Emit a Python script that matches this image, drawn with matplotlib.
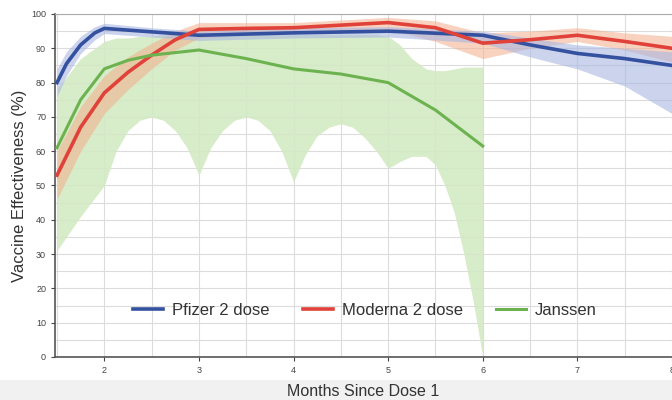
import matplotlib
matplotlib.use("Agg")
import matplotlib.pyplot as plt
from matplotlib.ticker import MultipleLocator

plt.rcParams["font.family"] = ["Liberation Sans", "DejaVu Sans"]

# Pfizer 2 dose
PF_X = [1.5, 1.6, 1.75, 1.9, 2.0, 2.5, 3.0, 4.0, 5.0, 6.0, 6.5, 7.0, 7.5, 8.0]
PF_Y = [80, 85.5, 91, 94.5, 95.8, 94.8, 93.8, 94.5, 95, 93.8, 91, 88.5, 87, 85]
PF_LO = [76, 82, 88.5, 92.5, 94.3, 93.3, 92.3, 93, 93.3, 91.5, 87.5, 84, 79, 71]
PF_HI = [84, 89, 93.5, 96.3, 97.3, 96, 95, 96, 96.3, 95, 93, 91, 90, 89]

# Moderna 2 dose
MO_X = [1.5, 1.75, 2.0, 2.25, 2.5, 2.75, 3.0, 3.5, 4.0, 5.0, 5.5, 6.0, 6.5, 7.0, 7.5, 8.0]
MO_Y = [53, 67, 77, 83, 88, 92.5, 95.5, 95.8, 96, 97.5, 96, 91.5, 92.5, 93.8, 92, 90]
MO_LO = [46, 60, 71, 78, 84, 89.5, 93, 94, 94.5, 95.5, 92, 87, 90, 92, 89.5, 86]
MO_HI = [60, 73, 82, 87.5, 91.5, 95, 97.5, 97.5, 97.5, 99, 98, 94.5, 95, 96, 94.5, 93.5]

# Janssen
JA_X = [1.5, 1.75, 2.0, 2.25, 2.5, 3.0, 3.5, 4.0, 4.5, 5.0, 5.5, 6.0]
JA_Y = [61, 75, 84, 86.5, 88, 89.5, 87, 84, 82.5, 80, 72, 61.5]
JA_BX = [1.5, 1.75, 2.0, 2.125, 2.25, 2.375, 2.5, 2.625, 2.75, 2.875, 3.0,
         3.125, 3.25, 3.375, 3.5, 3.625, 3.75, 3.875, 4.0, 4.125, 4.25, 4.375,
         4.5, 4.625, 4.75, 4.875, 5.0, 5.125, 5.25, 5.4, 5.5, 5.6, 5.7, 5.8,
         5.9, 6.0]
JA_LO = [31, 41, 50, 60, 66, 69, 70, 69, 66, 61, 53, 61, 66, 69, 70, 69, 66,
         60, 51, 59, 64.5, 67, 68, 67, 64, 60, 55, 57, 58.5, 58.5, 56, 50, 42,
         30, 16, 0]
JA_HI = [78, 87, 92, 93, 93, 93.5, 93.5, 94, 94, 94, 94, 94, 94, 94, 94, 94,
         94, 94, 94, 94, 94, 94, 94, 94, 94, 94, 93.5, 91, 87, 84, 83.5, 83.5,
         84, 84.5, 84.5, 84.5]

BLUE, RED, GREEN = "#34519f", "#e0423a", "#6cb34f"

fig = plt.figure(figsize=(6.72, 4.0), dpi=100)
fig.patch.set_facecolor("white")
fig.add_artist(plt.Rectangle((0, 0), 1, 0.05, transform=fig.transFigure,
                             facecolor="#f1f1f1", edgecolor="none", zorder=0))
ax = fig.add_axes([0.082, 0.1075, 0.918, 0.8575])

ax.fill_between(JA_BX, JA_LO, JA_HI, color="#d3eac4", alpha=0.9, lw=0, zorder=2)
ax.fill_between(MO_X, MO_LO, MO_HI, color="#f4ad8c", alpha=0.55, lw=0, zorder=3)
ax.fill_between(PF_X, PF_LO, PF_HI, color="#a9b7e2", alpha=0.6, lw=0, zorder=3)

ax.plot(PF_X, PF_Y, color=BLUE, lw=2.6, label="Pfizer 2 dose", zorder=5)
ax.plot(MO_X, MO_Y, color=RED, lw=2.6, label="Moderna 2 dose", zorder=5)
ax.plot(JA_X, JA_Y, color=GREEN, lw=2.2, label="Janssen", zorder=5)

ax.set_xlim(1.48, 8.0)
ax.set_ylim(0, 100)
ax.xaxis.set_major_locator(MultipleLocator(1))
ax.xaxis.set_minor_locator(MultipleLocator(0.5))
ax.yaxis.set_major_locator(MultipleLocator(10))
ax.yaxis.set_minor_locator(MultipleLocator(5))
ax.grid(which="both", color="#dcdcdc", lw=0.8, zorder=0)
ax.set_axisbelow(True)
ax.tick_params(which="major", labelsize=6.5, colors="#444", length=3, width=0.8)
ax.tick_params(which="minor", length=0)
for s in ["left", "bottom"]:
    ax.spines[s].set_color("#555")
    ax.spines[s].set_linewidth(1.2)
ax.spines["top"].set_color("#aaa")
ax.spines["right"].set_visible(False)

ax.set_xlabel("Months Since Dose 1", fontsize=11.5, color="#333", labelpad=6.5)
ax.set_ylabel("Vaccine Effectiveness (%)", fontsize=12, color="#333", labelpad=3)

ax.legend(loc="center", bbox_to_anchor=(0.502, 0.137), ncol=3, frameon=False,
          fontsize=12, handlelength=1.8, columnspacing=2.0, handletextpad=0.55,
          labelcolor="#333")

fig.savefig("out.png", dpi=100, facecolor="white")
